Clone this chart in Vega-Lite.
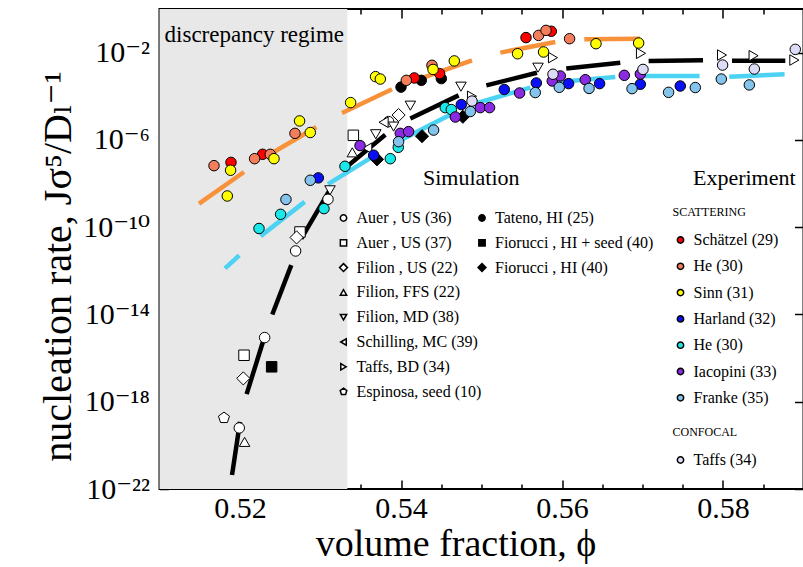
{
  "$schema": "https://vega.github.io/schema/vega-lite/v6.json",
  "width": 644,
  "height": 480,
  "autosize": {"type": "none"},
  "padding": {"left": 159.5, "top": 9, "right": 0, "bottom": 78},
  "background": "white",
  "config": {
    "font": "Liberation Serif, DejaVu Serif",
    "view": {"stroke": "black", "strokeWidth": 2},
    "axis": {"zindex": 1, "domain": false, "grid": false, "tickColor": "black", "tickWidth": 1.5, "labelColor": "black", "titleColor": "black", "labelFont": "Liberation Serif, DejaVu Serif", "titleFont": "Liberation Serif, DejaVu Serif", "titleFontWeight": "normal"},
    "legend": {"labelFont": "Liberation Serif, DejaVu Serif", "titleFont": "Liberation Serif, DejaVu Serif", "labelColor": "black", "titleColor": "black", "titleFontWeight": "normal", "padding": 0}
  },
  "datasets": {
    "regime": [{"from": 0.51, "to": 0.53333}],
    "note": [{"text": "discrepancy regime", "phi": 0.51063, "logJ": -1.5}],
    "headings": [
      {"text": "Simulation", "phi": 0.54273, "logJ": -8.08},
      {"text": "Experiment", "phi": 0.57627, "logJ": -8.08}
    ],
    "black": [
      {"seg": 1, "phi": 0.51901, "logJ": -21.36}, {"seg": 1, "phi": 0.52, "logJ": -18.92},
      {"seg": 2, "phi": 0.52082, "logJ": -17.65}, {"seg": 2, "phi": 0.52298, "logJ": -15.1},
      {"seg": 3, "phi": 0.52401, "logJ": -14.0}, {"seg": 3, "phi": 0.52637, "logJ": -11.74},
      {"seg": 4, "phi": 0.52761, "logJ": -10.52}, {"seg": 4, "phi": 0.53125, "logJ": -8.23},
      {"seg": 5, "phi": 0.53308, "logJ": -7.29}, {"seg": 5, "phi": 0.53805, "logJ": -5.76},
      {"seg": 6, "phi": 0.54116, "logJ": -5.02}, {"seg": 6, "phi": 0.54716, "logJ": -3.96},
      {"seg": 7, "phi": 0.5506, "logJ": -3.5}, {"seg": 7, "phi": 0.55689, "logJ": -2.92},
      {"seg": 8, "phi": 0.56053, "logJ": -2.73}, {"seg": 8, "phi": 0.56724, "logJ": -2.46},
      {"seg": 9, "phi": 0.57076, "logJ": -2.38}, {"seg": 9, "phi": 0.57752, "logJ": -2.35},
      {"seg": 10, "phi": 0.58112, "logJ": -2.37}, {"seg": 10, "phi": 0.58774, "logJ": -2.37}
    ],
    "orange": [
      {"seg": 1, "phi": 0.51491, "logJ": -8.92}, {"seg": 1, "phi": 0.5205, "logJ": -7.47},
      {"seg": 2, "phi": 0.52373, "logJ": -6.66}, {"seg": 2, "phi": 0.52948, "logJ": -5.41},
      {"seg": 3, "phi": 0.53267, "logJ": -4.77}, {"seg": 3, "phi": 0.53888, "logJ": -3.68},
      {"seg": 4, "phi": 0.5424, "logJ": -3.19}, {"seg": 4, "phi": 0.54882, "logJ": -2.35},
      {"seg": 5, "phi": 0.55234, "logJ": -2.0}, {"seg": 5, "phi": 0.55917, "logJ": -1.51},
      {"seg": 6, "phi": 0.56277, "logJ": -1.39}, {"seg": 6, "phi": 0.5697, "logJ": -1.36}
    ],
    "cyan": [
      {"seg": 1, "phi": 0.51814, "logJ": -11.89}, {"seg": 1, "phi": 0.51991, "logJ": -11.29},
      {"seg": 2, "phi": 0.52256, "logJ": -10.41}, {"seg": 2, "phi": 0.52803, "logJ": -8.84},
      {"seg": 3, "phi": 0.53093, "logJ": -8.03}, {"seg": 3, "phi": 0.53706, "logJ": -6.64},
      {"seg": 4, "phi": 0.53954, "logJ": -6.09}, {"seg": 4, "phi": 0.54637, "logJ": -4.8},
      {"seg": 5, "phi": 0.54886, "logJ": -4.37}, {"seg": 5, "phi": 0.55606, "logJ": -3.6},
      {"seg": 6, "phi": 0.55958, "logJ": -3.35}, {"seg": 6, "phi": 0.56662, "logJ": -3.12},
      {"seg": 7, "phi": 0.57014, "logJ": -3.07}, {"seg": 7, "phi": 0.57709, "logJ": -3.07},
      {"seg": 8, "phi": 0.58078, "logJ": -3.1}, {"seg": 8, "phi": 0.58765, "logJ": -2.99}
    ],
    "simOpen": [
      {"src": "Auer , US (36)", "phi": 0.51991, "logJ": -19.2},
      {"src": "Auer , US (36)", "phi": 0.52306, "logJ": -15.06},
      {"src": "Auer , US (36)", "phi": 0.52691, "logJ": -11.09},
      {"src": "Auer , US (36)", "phi": 0.53093, "logJ": -8.72},
      {"src": "Auer , US (36)", "phi": 0.53846, "logJ": -5.16},
      {"src": "Auer , US (37)", "phi": 0.5205, "logJ": -15.87},
      {"src": "Auer , US (37)", "phi": 0.52745, "logJ": -10.22},
      {"src": "Auer , US (37)", "phi": 0.53408, "logJ": -5.79},
      {"src": "Filion , US (22)", "phi": 0.52041, "logJ": -16.93},
      {"src": "Filion , US (22)", "phi": 0.52703, "logJ": -10.47},
      {"src": "Filion , US (22)", "phi": 0.5397, "logJ": -4.86},
      {"src": "Filion, FFS (22)", "phi": 0.52057, "logJ": -19.84},
      {"src": "Filion, FFS (22)", "phi": 0.53395, "logJ": -6.57},
      {"src": "Filion, MD (38)", "phi": 0.53118, "logJ": -8.31},
      {"src": "Filion, MD (38)", "phi": 0.53687, "logJ": -5.74},
      {"src": "Filion, MD (38)", "phi": 0.53908, "logJ": -5.39},
      {"src": "Filion, MD (38)", "phi": 0.54116, "logJ": -4.43},
      {"src": "Filion, MD (38)", "phi": 0.54745, "logJ": -3.56},
      {"src": "Filion, MD (38)", "phi": 0.55702, "logJ": -2.69},
      {"src": "Schilling, MC (39)", "phi": 0.53581, "logJ": -6.38},
      {"src": "Schilling, MC (39)", "phi": 0.53784, "logJ": -5.19},
      {"src": "Taffs, BD (34)", "phi": 0.54882, "logJ": -4.0},
      {"src": "Taffs, BD (34)", "phi": 0.55888, "logJ": -2.23},
      {"src": "Taffs, BD (34)", "phi": 0.56981, "logJ": -2.03},
      {"src": "Taffs, BD (34)", "phi": 0.57988, "logJ": -2.11},
      {"src": "Taffs, BD (34)", "phi": 0.5838, "logJ": -2.14},
      {"src": "Taffs, BD (34)", "phi": 0.58886, "logJ": -2.34},
      {"src": "Espinosa, seed (10)", "phi": 0.51801, "logJ": -18.74}
    ],
    "simFilled": [
      {"src": "Tateno, HI (25)", "phi": 0.54, "logJ": -3.58},
      {"src": "Tateno, HI (25)", "phi": 0.54252, "logJ": -3.27},
      {"src": "Tateno, HI (25)", "phi": 0.54501, "logJ": -3.19},
      {"src": "Fiorucci , HI + seed (40)", "phi": 0.52393, "logJ": -16.4},
      {"src": "Fiorucci , HI (40)", "phi": 0.53702, "logJ": -6.89},
      {"src": "Fiorucci , HI (40)", "phi": 0.54261, "logJ": -5.83},
      {"src": "Fiorucci , HI (40)", "phi": 0.54768, "logJ": -4.94}
    ],
    "scat": [
      {"src": "Schätzel (29)", "phi": 0.51888, "logJ": -7.03},
      {"src": "Schätzel (29)", "phi": 0.52281, "logJ": -6.66},
      {"src": "Schätzel (29)", "phi": 0.54165, "logJ": -3.16},
      {"src": "Schätzel (29)", "phi": 0.5448, "logJ": -2.96},
      {"src": "Schätzel (29)", "phi": 0.55553, "logJ": -1.31},
      {"src": "Schätzel (29)", "phi": 0.55867, "logJ": -1.02},
      {"src": "He (30)|a", "phi": 0.51677, "logJ": -7.18},
      {"src": "He (30)|a", "phi": 0.52181, "logJ": -6.86},
      {"src": "He (30)|a", "phi": 0.52376, "logJ": -6.66},
      {"src": "He (30)|a", "phi": 0.52683, "logJ": -5.7},
      {"src": "He (30)|a", "phi": 0.54066, "logJ": -3.27},
      {"src": "He (30)|a", "phi": 0.54385, "logJ": -2.58},
      {"src": "He (30)|a", "phi": 0.55709, "logJ": -1.21},
      {"src": "He (30)|a", "phi": 0.55801, "logJ": -0.98},
      {"src": "He (30)|a", "phi": 0.56094, "logJ": -1.36},
      {"src": "Sinn (31)", "phi": 0.53684, "logJ": -3.1},
      {"src": "Sinn (31)", "phi": 0.53743, "logJ": -3.21},
      {"src": "Sinn (31)", "phi": 0.53374, "logJ": -4.29},
      {"src": "Sinn (31)", "phi": 0.5274, "logJ": -5.13},
      {"src": "Sinn (31)", "phi": 0.52873, "logJ": -5.66},
      {"src": "Sinn (31)", "phi": 0.52422, "logJ": -6.86},
      {"src": "Sinn (31)", "phi": 0.51883, "logJ": -7.39},
      {"src": "Sinn (31)", "phi": 0.51842, "logJ": -8.57},
      {"src": "Sinn (31)", "phi": 0.54398, "logJ": -2.77},
      {"src": "Sinn (31)", "phi": 0.54662, "logJ": -2.38},
      {"src": "Sinn (31)", "phi": 0.55448, "logJ": -2.05},
      {"src": "Sinn (31)", "phi": 0.55771, "logJ": -1.97},
      {"src": "Sinn (31)", "phi": 0.56422, "logJ": -1.59},
      {"src": "Sinn (31)", "phi": 0.56952, "logJ": -1.56},
      {"src": "Harland (32)", "phi": 0.52973, "logJ": -7.74},
      {"src": "Harland (32)", "phi": 0.5366, "logJ": -6.7},
      {"src": "Harland (32)", "phi": 0.54749, "logJ": -4.38},
      {"src": "Harland (32)", "phi": 0.55283, "logJ": -3.69},
      {"src": "Harland (32)", "phi": 0.55681, "logJ": -3.39},
      {"src": "Harland (32)", "phi": 0.56082, "logJ": -3.42},
      {"src": "Harland (32)", "phi": 0.56467, "logJ": -3.42},
      {"src": "Harland (32)", "phi": 0.56973, "logJ": -3.45},
      {"src": "Harland (32)", "phi": 0.57469, "logJ": -3.53},
      {"src": "He (30)|b", "phi": 0.52236, "logJ": -10.06},
      {"src": "He (30)|b", "phi": 0.52504, "logJ": -9.41},
      {"src": "He (30)|b", "phi": 0.53043, "logJ": -9.15},
      {"src": "He (30)|b", "phi": 0.53304, "logJ": -7.21},
      {"src": "He (30)|b", "phi": 0.53867, "logJ": -6.86},
      {"src": "He (30)|b", "phi": 0.53966, "logJ": -6.34},
      {"src": "He (30)|b", "phi": 0.5455, "logJ": -4.52},
      {"src": "He (30)|b", "phi": 0.54625, "logJ": -4.61},
      {"src": "Iacopini (33)", "phi": 0.53491, "logJ": -6.26},
      {"src": "Iacopini (33)", "phi": 0.53991, "logJ": -5.7},
      {"src": "Iacopini (33)", "phi": 0.54094, "logJ": -5.62},
      {"src": "Iacopini (33)", "phi": 0.54675, "logJ": -4.95},
      {"src": "Iacopini (33)", "phi": 0.54985, "logJ": -4.52},
      {"src": "Iacopini (33)", "phi": 0.551, "logJ": -4.52},
      {"src": "Iacopini (33)", "phi": 0.55473, "logJ": -3.85},
      {"src": "Iacopini (33)", "phi": 0.55879, "logJ": -3.3},
      {"src": "Iacopini (33)", "phi": 0.55979, "logJ": -3.07},
      {"src": "Iacopini (33)", "phi": 0.56289, "logJ": -3.24},
      {"src": "Iacopini (33)", "phi": 0.56774, "logJ": -3.04},
      {"src": "Iacopini (33)", "phi": 0.56973, "logJ": -2.98},
      {"src": "Franke (35)", "phi": 0.52571, "logJ": -8.73},
      {"src": "Franke (35)", "phi": 0.52873, "logJ": -7.85},
      {"src": "Franke (35)", "phi": 0.5397, "logJ": -6.08},
      {"src": "Franke (35)", "phi": 0.54405, "logJ": -5.55},
      {"src": "Franke (35)", "phi": 0.54861, "logJ": -4.7},
      {"src": "Franke (35)", "phi": 0.55668, "logJ": -3.83},
      {"src": "Franke (35)", "phi": 0.55966, "logJ": -3.59},
      {"src": "Franke (35)", "phi": 0.56336, "logJ": -3.64},
      {"src": "Franke (35)", "phi": 0.5687, "logJ": -3.65},
      {"src": "Franke (35)", "phi": 0.57324, "logJ": -3.82},
      {"src": "Franke (35)", "phi": 0.57656, "logJ": -3.6},
      {"src": "Franke (35)", "phi": 0.57979, "logJ": -3.21},
      {"src": "Franke (35)", "phi": 0.58327, "logJ": -3.48}
    ],
    "conf": [
      {"src": "Taffs (34)", "phi": 0.54882, "logJ": -4.22},
      {"src": "Taffs (34)", "phi": 0.55888, "logJ": -2.99},
      {"src": "Taffs (34)", "phi": 0.57006, "logJ": -2.77},
      {"src": "Taffs (34)", "phi": 0.57995, "logJ": -2.57},
      {"src": "Taffs (34)", "phi": 0.58389, "logJ": -2.75},
      {"src": "Taffs (34)", "phi": 0.58898, "logJ": -1.85}
    ]
  },
  "layer": [
    {
      "data": {"name": "regime"},
      "mark": {"type": "rect", "color": "#e8e8e8"},
      "encoding": {
        "x": {"field": "from", "type": "quantitative", "scale": {"domain": [0.51, 0.59], "nice": false, "zero": false},
          "axis": {"orient": "bottom", "values": [0.52, 0.54, 0.56, 0.58], "format": ".2f", "ticks": false, "labelFontSize": 30, "labelPadding": 4, "title": "volume fraction, ϕ", "titleFontSize": 38, "titlePadding": 2, "titleX": 296}},
        "x2": {"field": "to"}
      }
    },
    {
      "data": {"name": "note"},
      "mark": {"type": "text", "align": "left", "baseline": "alphabetic", "fontSize": 23, "color": "black"},
      "encoding": {
        "x": {"field": "phi", "type": "quantitative", "scale": {"domain": [0.51, 0.59], "nice": false, "zero": false},
          "axis": {"orient": "bottom", "values": [0.52, 0.54, 0.56, 0.58], "labels": false, "tickSize": -9, "title": null}},
        "y": {"field": "logJ", "type": "quantitative", "scale": {"domain": [-22, 0], "nice": false, "zero": false},
          "axis": {"orient": "left", "values": [-2, -6, -10, -14, -18, -22], "ticks": false, "labelFontSize": 30, "labelPadding": 10,
            "labelExpr": "datum.value == -2 ? '10⁻²' : datum.value == -6 ? '10⁻⁶' : datum.value == -10 ? '10⁻¹⁰' : datum.value == -14 ? '10⁻¹⁴' : datum.value == -18 ? '10⁻¹⁸' : '10⁻²²'",
            "title": "nucleation rate, Jσ⁵/Dₗ⁻¹", "titleFontSize": 40, "titlePadding": 4, "titleY": 257}},
        "text": {"field": "text"}
      }
    },
    {
      "data": {"name": "headings"},
      "mark": {"type": "text", "align": "left", "baseline": "alphabetic", "fontSize": 22, "color": "black"},
      "encoding": {
        "x": {"field": "phi", "type": "quantitative", "axis": null},
        "y": {"field": "logJ", "type": "quantitative", "axis": null},
        "text": {"field": "text"}
      }
    },
    {
      "data": {"name": "black"},
      "mark": {"type": "line", "color": "black", "strokeWidth": 4.5, "strokeCap": "butt"},
      "encoding": {
        "x": {"field": "phi", "type": "quantitative", "axis": {"orient": "bottom", "values": [0.515, 0.525, 0.53, 0.535, 0.545, 0.55, 0.555, 0.565, 0.57, 0.575, 0.585], "labels": false, "tickSize": -5, "title": null}},
        "y": {"field": "logJ", "type": "quantitative", "axis": {"orient": "left", "values": [-2, -6, -10, -14, -18, -22], "labels": false, "tickSize": -9, "title": null}},
        "detail": {"field": "seg"}
      }
    },
    {
      "data": {"name": "orange"},
      "mark": {"type": "line", "color": "#f7923a", "strokeWidth": 4.5, "strokeCap": "butt"},
      "encoding": {
        "x": {"field": "phi", "type": "quantitative", "axis": {"orient": "top", "values": [0.52, 0.54, 0.56, 0.58], "labels": false, "tickSize": -9, "title": null}},
        "y": {"field": "logJ", "type": "quantitative", "axis": {"orient": "right", "values": [-2, -6, -10, -14, -18, -22], "labels": false, "tickSize": -9, "title": null}},
        "detail": {"field": "seg"}
      }
    },
    {
      "data": {"name": "cyan"},
      "mark": {"type": "line", "color": "#4cd2f2", "strokeWidth": 4.5, "strokeCap": "butt"},
      "encoding": {
        "x": {"field": "phi", "type": "quantitative", "axis": {"orient": "top", "values": [0.515, 0.525, 0.53, 0.535, 0.545, 0.55, 0.555, 0.565, 0.57, 0.575, 0.585], "labels": false, "tickSize": -5, "title": null}},
        "y": {"field": "logJ", "type": "quantitative", "axis": null},
        "detail": {"field": "seg"}
      }
    },
    {
      "data": {"name": "simOpen"},
      "mark": {"type": "point", "filled": true, "fill": "white", "stroke": "black", "strokeWidth": 1, "size": 110, "opacity": 1},
      "encoding": {
        "x": {"field": "phi", "type": "quantitative", "axis": null},
        "y": {"field": "logJ", "type": "quantitative", "axis": null},
        "shape": {"field": "src", "type": "nominal",
          "scale": {"domain": ["Auer , US (36)", "Auer , US (37)", "Filion , US (22)", "Filion, FFS (22)", "Filion, MD (38)", "Schilling, MC (39)", "Taffs, BD (34)", "Espinosa, seed (10)"],
            "range": ["circle", "square", "M0,-1.25L1.25,0L0,1.25L-1.25,0Z", "triangle-up", "triangle-down", "triangle-left", "triangle-right", "M0,-1.1L1.05,-0.34L0.65,0.89L-0.65,0.89L-1.05,-0.34Z"]},
          "legend": {"title": null, "orient": "none", "legendX": 176, "legendY": 201, "labelFont": "Liberation Serif", "labelFontSize": 16, "symbolSize": 40, "rowPadding": 8.8, "labelOffset": 5,
            "encode": {"symbols": {"update": {"fill": {"value": "white"}, "stroke": {"value": "black"}, "strokeWidth": {"value": 0.9}, "opacity": {"value": 1}}}}}}
      }
    },
    {
      "data": {"name": "simFilled"},
      "mark": {"type": "point", "filled": true, "fill": "black", "stroke": "black", "strokeWidth": 1, "size": 110, "opacity": 1},
      "encoding": {
        "x": {"field": "phi", "type": "quantitative", "axis": null},
        "y": {"field": "logJ", "type": "quantitative", "axis": null},
        "shape": {"field": "src", "type": "nominal",
          "scale": {"domain": ["Tateno, HI (25)", "Fiorucci , HI + seed (40)", "Fiorucci , HI (40)"], "range": ["circle", "square", "M0,-1.25L1.25,0L0,1.25L-1.25,0Z"]},
          "legend": {"title": null, "orient": "none", "legendX": 314.5, "legendY": 201, "labelFont": "Liberation Serif", "labelFontSize": 16, "symbolSize": 40, "rowPadding": 8.8, "labelOffset": 5,
            "encode": {"symbols": {"update": {"fill": {"value": "black"}, "stroke": {"value": "black"}, "strokeWidth": {"value": 0.9}, "opacity": {"value": 1}}}}}}
      }
    },
    {
      "data": {"name": "scat"},
      "mark": {"type": "point", "filled": true, "shape": "circle", "stroke": "black", "strokeWidth": 1, "size": 110, "opacity": 1},
      "encoding": {
        "x": {"field": "phi", "type": "quantitative", "axis": null},
        "y": {"field": "logJ", "type": "quantitative", "axis": null},
        "fill": {"field": "src", "type": "nominal",
          "scale": {"domain": ["Schätzel (29)", "He (30)|a", "Sinn (31)", "Harland (32)", "He (30)|b", "Iacopini (33)", "Franke (35)"],
            "range": ["#ff0000", "#f47e5c", "#ffff00", "#0a10f5", "#1ae8e8", "#8a2be2", "#84c3ec"]},
          "legend": {"title": "SCATTERING", "titleFont": "Liberation Serif", "titleFontSize": 12, "titlePadding": 13, "orient": "none", "legendX": 513, "legendY": 198, "labelFont": "Liberation Serif", "labelFontSize": 16, "labelExpr": "split(datum.label, '|')[0]", "symbolType": "circle", "symbolSize": 40, "rowPadding": 10.3, "labelOffset": 5,
            "encode": {"symbols": {"update": {"stroke": {"value": "black"}, "strokeWidth": {"value": 0.9}, "opacity": {"value": 1}}}}}}
      }
    },
    {
      "data": {"name": "conf"},
      "mark": {"type": "point", "filled": true, "shape": "circle", "stroke": "black", "strokeWidth": 1, "size": 110, "opacity": 1},
      "encoding": {
        "x": {"field": "phi", "type": "quantitative", "axis": null},
        "y": {"field": "logJ", "type": "quantitative", "axis": null},
        "fill": {"field": "src", "type": "nominal", "scale": {"domain": ["Taffs (34)"], "range": ["#dcdcf6"]},
          "legend": {"title": "CONFOCAL", "titleFont": "Liberation Serif", "titleFontSize": 12, "titlePadding": 13, "orient": "none", "legendX": 513, "legendY": 418, "labelFont": "Liberation Serif", "labelFontSize": 16, "symbolType": "circle", "symbolSize": 40, "rowPadding": 10.3, "labelOffset": 5,
            "encode": {"symbols": {"update": {"stroke": {"value": "black"}, "strokeWidth": {"value": 0.9}, "opacity": {"value": 1}}}}}}
      }
    }
  ],
  "resolve": {
    "axis": {"x": "independent", "y": "independent"},
    "scale": {"shape": "independent", "fill": "independent"}
  }
}
